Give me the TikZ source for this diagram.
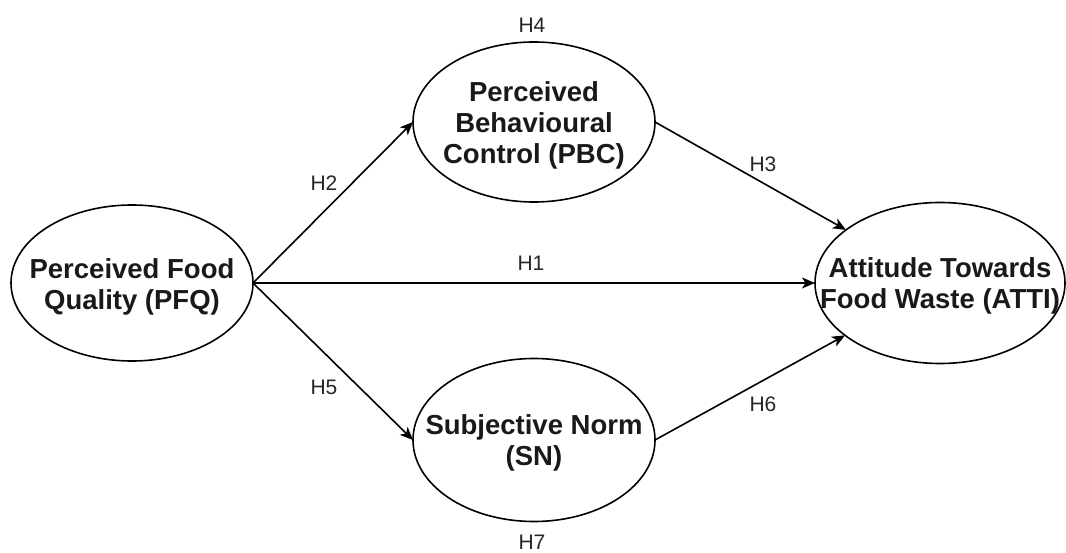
\documentclass[tikz,border=0pt]{standalone}
\usepackage{fontspec}
\setmainfont{Liberation Sans}
\usetikzlibrary{shapes.geometric,arrows.meta}
\tikzset{
  construct/.style={draw=black, line width=1.6pt, ellipse, inner sep=0pt, outer sep=0pt},
  ctext/.style={align=center, inner sep=0pt, font=\fontsize{27.5}{31}\selectfont\bfseries, text=black!90},
  hlabel/.style={inner sep=0pt, font=\fontsize{21}{24}\selectfont, text=black!85},
  arr/.style={draw=black, line width=1.6pt, -{Stealth[length=13pt,width=11pt,inset=3.5pt]}},
}
\begin{document}
\begin{tikzpicture}[x=1pt,y=-1pt]
\useasboundingbox[fill=white] (0,0) rectangle (1066,553);
% constructs
\node[construct, minimum width=242pt, minimum height=156pt,
  label={[ctext, yshift=-4pt]center:Perceived Food\\Quality (PFQ)}] (pfq) at (132,283) {};
\node[construct, minimum width=242pt, minimum height=160pt,
  label={[ctext, yshift=-3pt]center:Perceived\\Behavioural\\Control (PBC)}] (pbc) at (534,122) {};
\node[construct, minimum width=242pt, minimum height=163pt,
  label={[ctext, yshift=-3pt]center:Subjective Norm\\(SN)}] (sn) at (534,440) {};
\node[construct, minimum width=250pt, minimum height=161pt,
  label={[ctext, yshift=-3pt]center:Attitude Towards\\Food Waste (ATTI)}] (atti) at (940,283) {};
% connectors
\draw[arr] (pfq.east) -- (pbc.west);
\draw[arr] (pfq.east) -- (atti.west);
\draw[arr] (pfq.east) -- (sn.west);
\draw[arr] (pbc.east) -- (atti);
\draw[arr] (sn.east) -- (atti);
% hypothesis labels
\node[hlabel] (h1) at (531,263) {H1};
\node[hlabel] (h2) at (324,183) {H2};
\node[hlabel] (h3) at (763,164) {H3};
\node[hlabel] (h4) at (532,25) {H4};
\node[hlabel] (h5) at (324,387) {H5};
\node[hlabel] (h6) at (763,404) {H6};
\node[hlabel] (h7) at (532,542) {H7};
\end{tikzpicture}
\end{document}
